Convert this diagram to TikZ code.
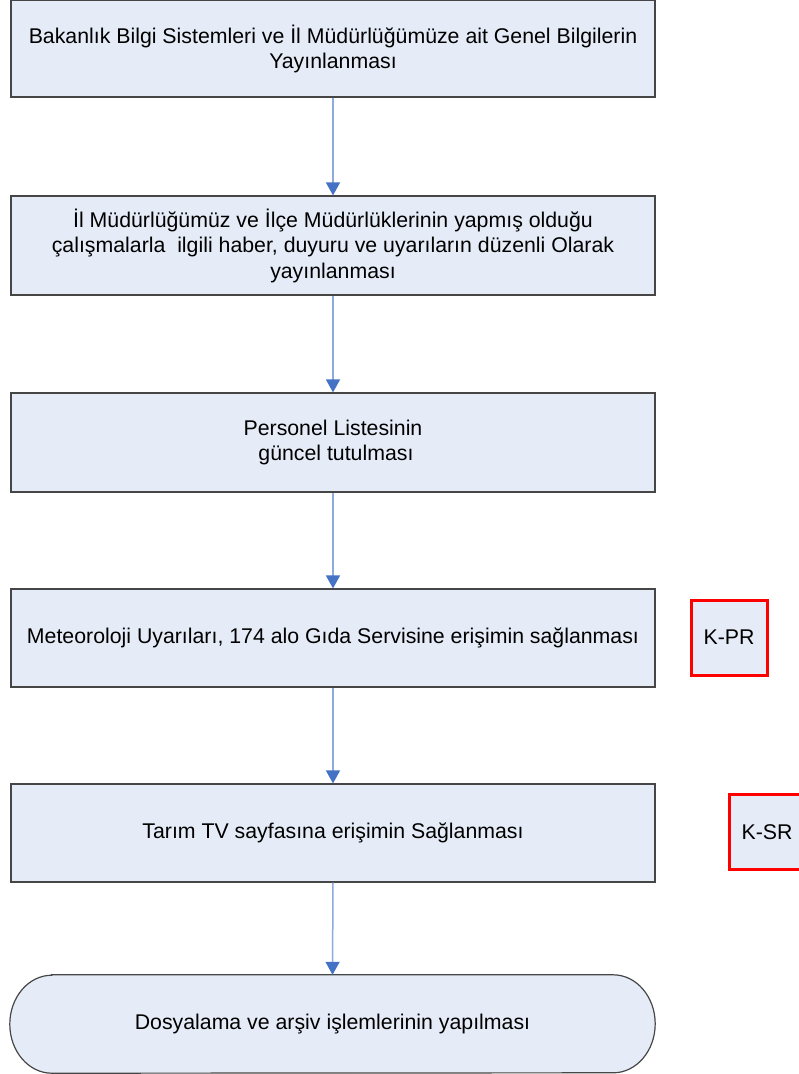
\documentclass[tikz,border=0pt]{standalone}
\usepackage{fontspec}
\setmainfont{Liberation Sans}
\usetikzlibrary{arrows.meta,backgrounds}
\definecolor{boxfill}{RGB}{230,236,247}
\definecolor{boxline}{RGB}{70,70,70}
\definecolor{linkline}{RGB}{143,170,220}
\definecolor{headblue}{RGB}{68,114,196}
\definecolor{kred}{RGB}{255,0,0}
\tikzset{
  stepbox/.style={draw=boxline, line width=1.2pt, fill=boxfill, rectangle,
    minimum width=644pt, align=center, inner sep=0pt,
    font=\fontsize{21.3}{25.5}\selectfont},
  kbox/.style={draw=kred, line width=3pt, fill=boxfill, rectangle,
    minimum width=76pt, minimum height=75pt, inner sep=0pt,
    font=\fontsize{21.3}{25.5}\selectfont},
  flow/.style={draw=linkline, line width=1.5pt,
    -{Triangle[width=14pt,length=13pt,color=headblue]}},
}
\begin{document}
\begin{tikzpicture}[x=1pt,y=1pt]
\clip (0,0) rectangle (799,-1074);

\node[stepbox, minimum height=96.5pt] (b1) at (333,-48.75)
  {Bakanlık Bilgi Sistemleri ve İl Müdürlüğümüze ait Genel Bilgilerin\\Yayınlanması};
\node[stepbox, minimum height=99pt] (b2) at (333,-245.5)
  {İl Müdürlüğümüz ve İlçe Müdürlüklerinin yapmış olduğu\\çalışmalarla~ ilgili haber, duyuru ve uyarıların düzenli Olarak\\yayınlanması};
\node[stepbox, minimum height=99pt] (b3) at (333,-442.5)
  {Personel Listesinin\\~güncel tutulması};
\node[stepbox, minimum height=98pt] (b4) at (333,-638)
  {Meteoroloji Uyarıları, 174 alo Gıda Servisine erişimin sağlanması};
\node[stepbox, minimum height=98pt] (b5) at (333,-833)
  {Tarım TV sayfasına erişimin Sağlanması};
\node[rectangle, minimum width=645pt, minimum height=98pt, inner sep=0pt,
  font=\fontsize{21.3}{25.5}\selectfont] (b6) at (332.5,-1024)
  {Dosyalama ve arşiv işlemlerinin yapılması};
\begin{scope}[on background layer]
\fill[white] (0,0) rectangle (799,-1074);
\draw[draw=boxline, line width=1.2pt, fill=boxfill]
  ([xshift=42pt]b6.north west) -- ([xshift=-42pt]b6.north east)
  arc[start angle=90, end angle=-90, x radius=42pt, y radius=49pt]
  -- ([xshift=42pt]b6.south west)
  arc[start angle=270, end angle=90, x radius=42pt, y radius=49pt]
  -- cycle;
\end{scope}

\node[kbox] (kpr) at (729,-637.5) {K-PR};
\node[kbox] (ksr) at (767,-832) {K-SR};

\draw[flow] (b1.south) -- (b2.north);
\draw[flow] (b2.south) -- (b3.north);
\draw[flow] (b3.south) -- (b4.north);
\draw[flow] (b4.south) -- (b5.north);
\draw[flow] (b5.south) -- (b6.north);
\end{tikzpicture}
\end{document}
